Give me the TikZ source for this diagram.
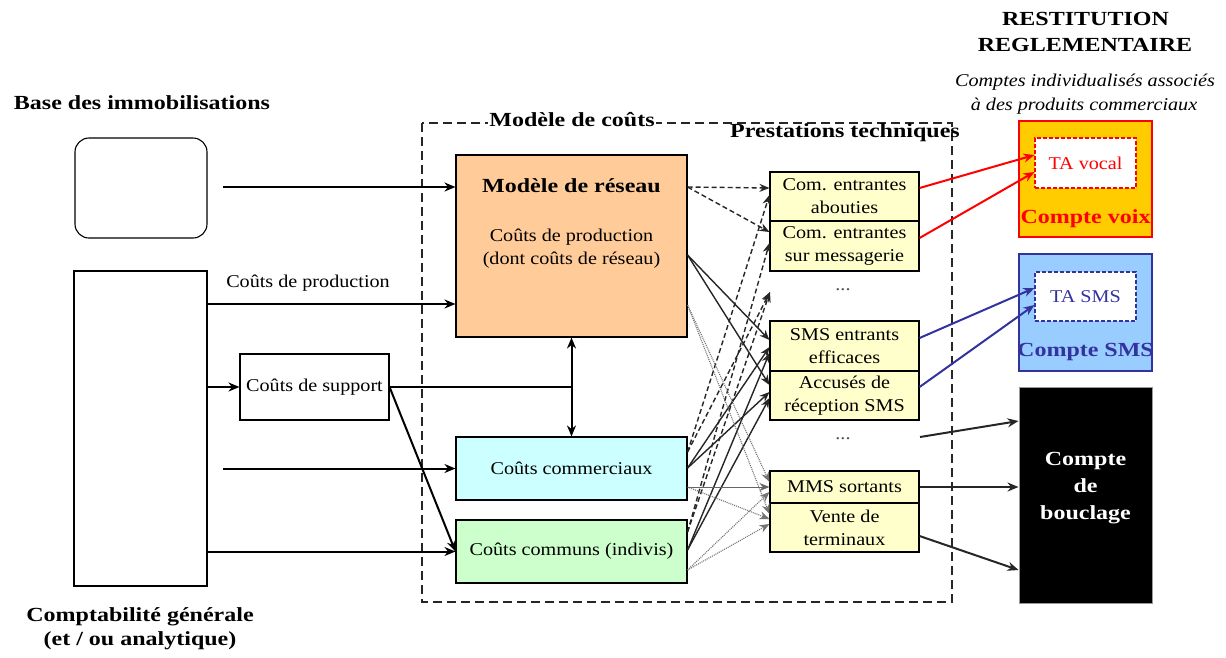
\documentclass[tikz,border=0pt]{standalone}
\usepackage{fontspec}
\setmainfont{Liberation Serif}[FakeStretch=1.12]
\newfontfamily\headfont{Liberation Serif}[FakeStretch=1.2]
\usetikzlibrary{arrows.meta}
\definecolor{peach}{HTML}{FFCC99}
\definecolor{lcyan}{HTML}{CCFFFF}
\definecolor{lgreen}{HTML}{CCFFCC}
\definecolor{lyellow}{HTML}{FFFFCC}
\definecolor{gold}{HTML}{FFCC00}
\definecolor{skyb}{HTML}{99CCFF}
\definecolor{smsblue}{HTML}{3333A0}
\newcommand\nsz{\fontsize{18}{23}\selectfont}
\newcommand\isz{\itshape\fontsize{18}{24}\selectfont}
\newcommand\hsz{\headfont\bfseries\fontsize{20}{26}\selectfont}
\tikzset{
  box/.style={draw, line width=1.1pt, inner sep=0pt, align=center, font=\nsz},
  pbox/.style={box, fill=lyellow, minimum width=149pt},
  arr/.style={line width=2pt, -{Stealth[length=11pt,width=9pt]}},
  plain/.style={line width=2pt},
  conn/.style={line width=1.4pt, black!85, -{Stealth[length=10pt,width=8pt]}},
  dsh/.style={conn, dash pattern=on 5pt off 3pt},
  dotc/.style={line width=1.1pt, black!55, dash pattern=on 1pt off 1pt, -{Stealth[length=10pt,width=8pt]}},
  thinc/.style={line width=1pt, black!60, -{Stealth[length=10pt,width=8pt]}},
  redarr/.style={line width=2pt, red, -{Stealth[length=11pt,width=9pt]}},
  bluearr/.style={line width=2pt, smsblue, -{Stealth[length=11pt,width=9pt]}},
  blkarr/.style={line width=2pt, black!85, -{Stealth[length=11pt,width=9pt]}},
}
\begin{document}
\begin{tikzpicture}[x=1pt,y=-1pt]
\useasboundingbox (0,0) rectangle (1226,657);
\fill[white] (0,0) rectangle (1226,657);

% titles
\node[font=\hsz] (t1) at (1085.5,19) {RESTITUTION};
\node[font=\hsz] (t2) at (1085,45) {REGLEMENTAIRE};
\node[font=\isz] (t3) at (1085,82) {Comptes individualisés associés};
\node[font=\isz] (t4) at (1084,106) {à des produits commerciaux};
\node[font=\hsz] (t5) at (142,103) {Base des immobilisations};
\node[font=\hsz\fontsize{20}{24}\selectfont, align=center] (t6) at (140,629) {Comptabilité générale\\(et / ou analytique)};

% dashed cost model frame
\draw[line width=2pt, dash pattern=on 9pt off 5pt, black!85] (422,123) rectangle (952,602);
\node[fill=white, inner sep=1pt, font=\hsz] (mc) at (572,120) {Modèle de coûts};
\node[font=\hsz] (pt) at (845,133) {Prestations techniques};

% left boxes
\node[box, rounded corners=14pt, minimum width=132pt, minimum height=100pt] (immo) at (141,188) {};
\node[box, minimum width=133pt, minimum height=315pt] (compta) at (140.5,428.5) {};
\node[box, minimum width=149pt, minimum height=66pt] (sup) at (314.5,387) {Coûts de support};
\node[font=\nsz] (lprod) at (308,283) {Coûts de production};

% cost boxes
\node[box, fill=peach, minimum width=231pt, minimum height=182pt] (res) at (571.5,246) {};
\node[font=\hsz] (rest) at (571.5,186) {Modèle de réseau};
\node[font=\nsz, align=center] (resb) at (571.5,248.5) {Coûts de production\\(dont coûts de réseau)};
\node[box, fill=lcyan, minimum width=231pt, minimum height=63pt] (com) at (571.5,468.5) {Coûts commerciaux};
\node[box, fill=lgreen, minimum width=231pt, minimum height=63pt] (cmn) at (571.5,551.5) {Coûts communs (indivis)};

% prestations
\node[pbox, minimum height=49pt] (ab) at (844.5,196.5) {Com. entrantes\\abouties};
\node[pbox, minimum height=50pt] (msg) at (844.5,246) {Com. entrantes\\sur messagerie};
\node[pbox, minimum height=50pt] (sms) at (844.5,346) {SMS entrants\\efficaces};
\node[pbox, minimum height=49pt] (acc) at (844.5,395.5) {Accusés de\\réception SMS};
\node[pbox, minimum height=32pt] (mms) at (844.5,487) {MMS sortants};
\node[pbox, minimum height=49pt] (vte) at (844.5,527.5) {Vente de\\terminaux};
\node[font=\nsz, black!70] (d1) at (843,290) {...};
\node[font=\nsz, black!70] (d2) at (843,439) {...};

% right accounts
\node[draw=red, line width=1.5pt, fill=gold, minimum width=133pt, minimum height=116pt] (voix) at (1085.5,179) {};
\node[draw=red, line width=1.2pt, dash pattern=on 4pt off 2pt, fill=white, minimum width=101pt, minimum height=50pt, font=\nsz, text=red] (tav) at (1085.5,163) {TA vocal};
\node[font=\hsz, text=red] (lv) at (1085.5,219) {Compte voix};
\node[draw=smsblue, line width=1.5pt, fill=skyb, minimum width=133pt, minimum height=117pt] (csms) at (1085.5,312.5) {};
\node[draw=smsblue, line width=1.2pt, dash pattern=on 4pt off 2pt, fill=white, minimum width=101pt, minimum height=49pt, font=\nsz, text=smsblue] (tas) at (1085.5,296.5) {TA SMS};
\node[font=\hsz, text=smsblue] (ls) at (1085.5,352) {Compte SMS};
\node[draw=black!40, line width=1pt, fill=black, minimum width=133pt, minimum height=216pt] (bcl) at (1085.5,495) {};
\node[font=\hsz\fontsize{20}{27}\selectfont, text=white, align=center] (lb) at (1085.5,488) {Compte\\de\\bouclage};

% left arrows
\coordinate (a1) at (223,187);
\draw[arr] (a1) -- (a1 -| res.west);
\draw[arr] (compta.east |- 0,304) -- (res.west |- 0,304);
\draw[arr] (compta.east |- sup.west) -- (sup.west);
\coordinate (a3) at (223,468.5);
\draw[arr] (a3) -- (com.west);
\draw[arr] (compta.east |- cmn.west) -- (cmn.west);
\draw[arr] (sup.east) -- (cmn.west);
\coordinate (j) at (res.south |- sup.east);
\draw[plain] (sup.east) -- (j);
\draw[line width=2pt, {Stealth[length=11pt,width=9pt]}-{Stealth[length=11pt,width=9pt]}] (res.south) -- (com.north);

% connectors costs -> prestations
\coordinate (dt) at (770,292);
\draw[dsh] (res.east |- 0,187) -- (ab.west |- 0,188);
\draw[dsh] (res.east |- 0,187) -- (msg.west |- 0,232);
\draw[dsh] (com.east |- 0,452) -- (ab.west |- 0,195);
\draw[dsh] (com.east |- 0,452) -- (dt);
\draw[dsh] (cmn.east |- 0,532) -- (msg.west |- 0,243);
\draw[dsh] (cmn.east |- 0,532) -- (dt);

\draw[conn] (res.east |- 0,255) -- (sms.west |- 0,340);
\draw[conn] (res.east |- 0,255) -- (acc.west |- 0,385);
\draw[conn] (com.east |- 0,468) -- (sms.west |- 0,347);
\draw[conn] (com.east |- 0,468) -- (acc.west |- 0,392);
\draw[conn] (cmn.east |- 0,550) -- (sms.west |- 0,353);
\draw[conn] (cmn.east |- 0,550) -- (acc.west |- 0,398);

\draw[dotc] (res.east |- 0,305) -- (mms.west |- 0,482);
\draw[dotc] (res.east |- 0,305) -- (vte.west |- 0,514);
\draw[thinc] (com.east |- 0,487) -- (mms.west |- 0,487);
\draw[dotc] (com.east |- 0,487) -- (vte.west |- 0,519);
\draw[dotc] (cmn.east |- 0,570) -- (mms.west |- 0,492);
\draw[dotc] (cmn.east |- 0,570) -- (vte.west |- 0,524);

% prestations -> accounts
\draw[redarr] (ab.east |- 0,188) -- (tav.west |- 0,155);
\draw[redarr] (msg.east |- 0,238) -- (tav.west |- 0,172);
\draw[bluearr] (sms.east |- 0,338) -- (tas.west |- 0,288);
\draw[bluearr] (acc.east |- 0,387) -- (tas.west |- 0,305);
\coordinate (c1) at (920,437);
\draw[blkarr] (c1) -- (bcl.west |- 0,421);
\draw[blkarr] (mms.east) -- (bcl.west |- 0,487);
\draw[blkarr] (vte.east |- 0,536) -- (bcl.west |- 0,570);
\end{tikzpicture}
\end{document}
